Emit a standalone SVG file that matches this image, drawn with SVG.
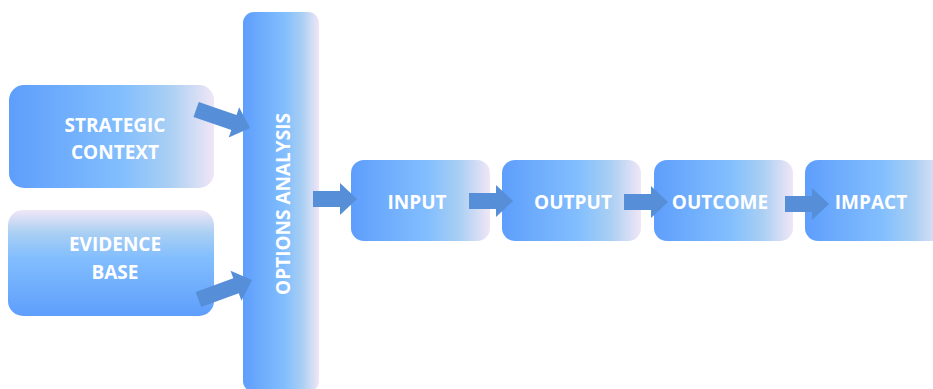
<svg xmlns="http://www.w3.org/2000/svg" width="933" height="389" viewBox="0 0 933 389">
  <defs>
    <linearGradient id="gH" x1="0" y1="0" x2="1" y2="0">
      <stop offset="0" stop-color="#5e9efc"/>
      <stop offset="0.55" stop-color="#82befe"/>
      <stop offset="0.78" stop-color="#a9cff3"/>
      <stop offset="1" stop-color="#f0e6f6"/>
    </linearGradient>
    <linearGradient id="gV" x1="0" y1="1" x2="0" y2="0">
      <stop offset="0" stop-color="#5e9efc"/>
      <stop offset="0.55" stop-color="#82befe"/>
      <stop offset="0.78" stop-color="#a9cff3"/>
      <stop offset="1" stop-color="#f0e6f6"/>
    </linearGradient>
    <!-- block arrow pointing right, tip at origin -->
    <path id="arrow" d="M-57,-8 L-17,-8 L-17,-16 L0,0 L-17,16 L-17,8 L-57,8 Z"/>
    <path id="arrowS" d="M-44,-8 L-17,-8 L-17,-16 L0,0 L-17,16 L-17,8 L-44,8 Z"/>
  </defs>
  <style>
    .box { stroke: none; }
    .lbl { font-family: "Open Sans", "Liberation Sans", sans-serif; font-weight: 700; font-size: 19px; fill: #ffffff; text-anchor: middle; }
    .arr { fill: #568fd8; }
  </style>

  <rect width="933" height="389" fill="#ffffff"/>

  <g id="strategic-context">
    <rect class="box" x="9" y="85" width="205" height="103" rx="15" fill="url(#gH)"/>
    <text class="lbl" x="115" y="132">STRATEGIC</text>
    <text class="lbl" x="115" y="159">CONTEXT</text>
  </g>

  <g id="evidence-base">
    <rect class="box" x="8" y="210" width="206" height="106" rx="15" fill="url(#gV)"/>
    <text class="lbl" x="115" y="251">EVIDENCE</text>
    <text class="lbl" x="115" y="279">BASE</text>
  </g>

  <g id="options-analysis">
    <rect class="box" x="243" y="12" width="76" height="380" rx="11" fill="url(#gH)"/>
    <text class="lbl" transform="translate(290,204) rotate(-90)" x="0" y="0">OPTIONS ANALYSIS</text>
  </g>

  <g id="input">
    <rect class="box" x="351" y="160" width="139" height="81" rx="13" fill="url(#gH)"/>
    <text class="lbl" x="417" y="209">INPUT</text>
  </g>

  <g id="output">
    <rect class="box" x="502" y="160" width="139" height="81" rx="13" fill="url(#gH)"/>
    <text class="lbl" x="573" y="209">OUTPUT</text>
  </g>

  <g id="outcome">
    <rect class="box" x="654" y="160" width="139" height="81" rx="13" fill="url(#gH)"/>
    <text class="lbl" x="720" y="209">OUTCOME</text>
  </g>

  <g id="impact">
    <rect class="box" x="805" y="160" width="140" height="81" rx="13" fill="url(#gH)"/>
    <text class="lbl" x="871" y="209">IMPACT</text>
  </g>

  <g id="connectors" class="arr">
    <use href="#arrow" transform="translate(250,128) rotate(19)"/>
    <use href="#arrow" transform="translate(252,280) rotate(-20)"/>
    <use href="#arrowS" transform="translate(357,199)"/>
    <use href="#arrowS" transform="translate(513,201)"/>
    <use href="#arrowS" transform="translate(668,202)"/>
    <use href="#arrowS" transform="translate(829,204)"/>
  </g>
</svg>
